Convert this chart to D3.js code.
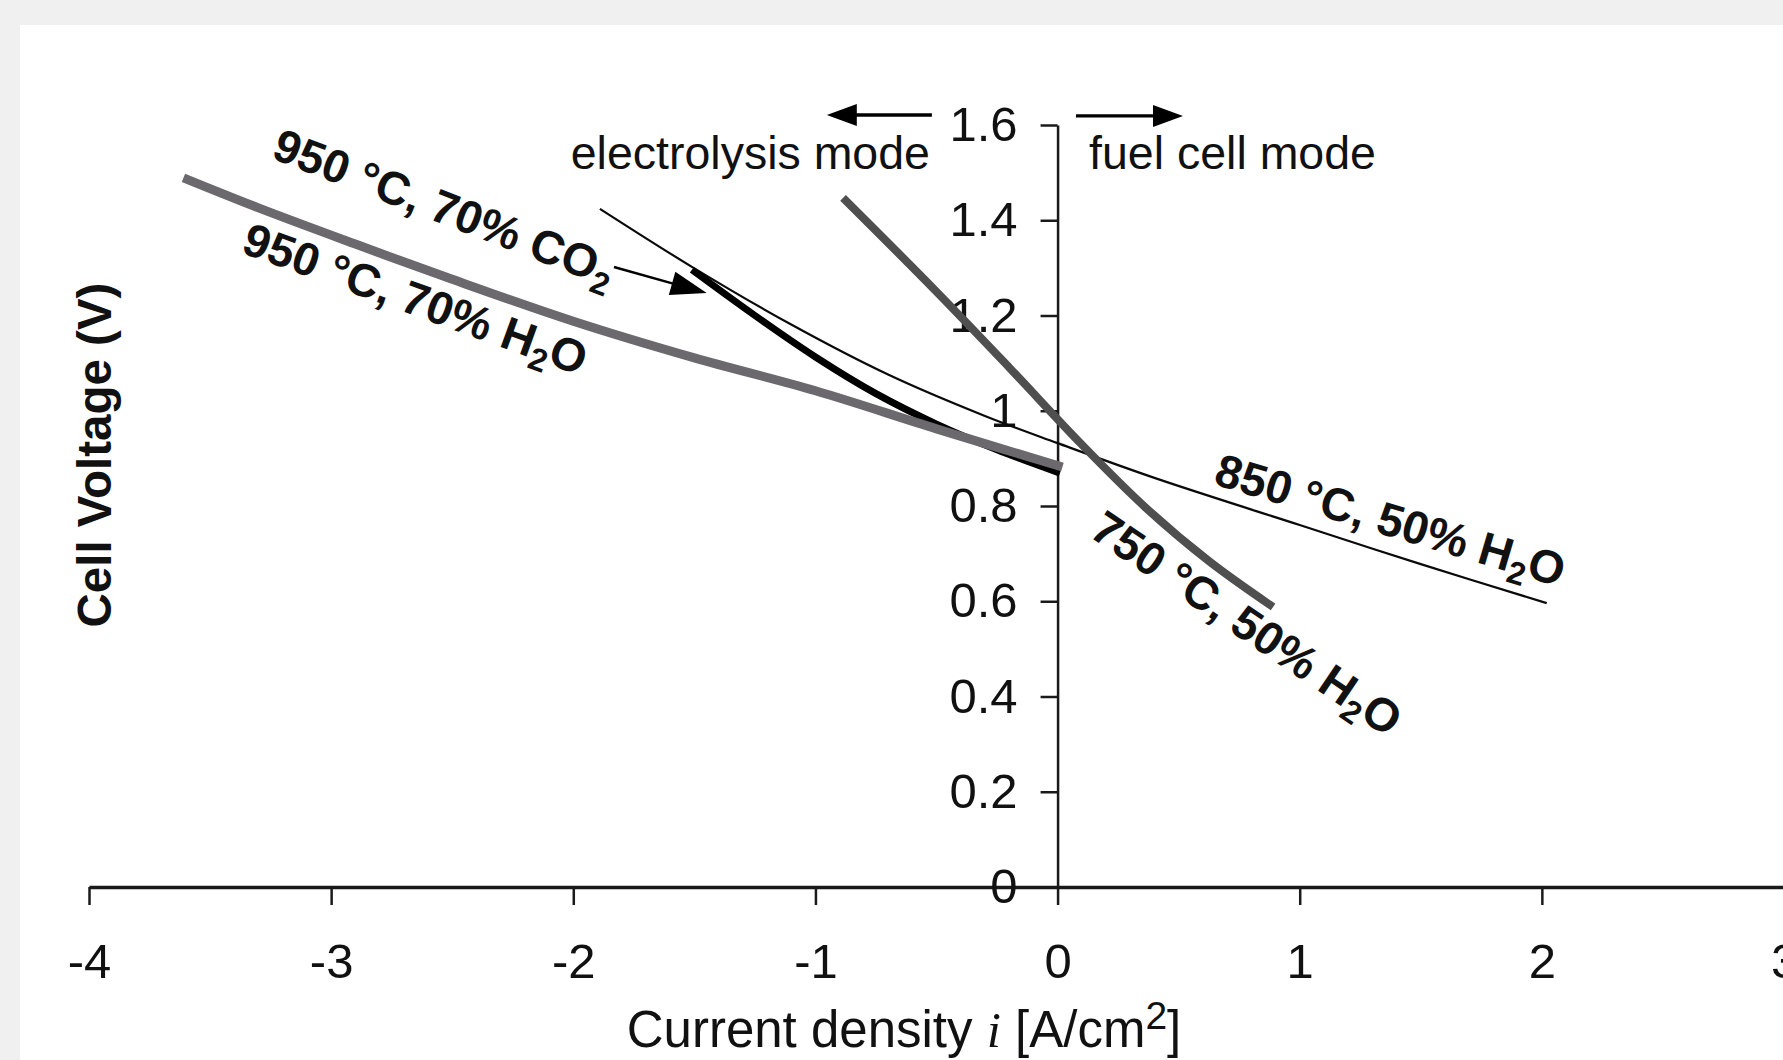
<!DOCTYPE html>
<html>
<head>
<meta charset="utf-8">
<script src="https://cdn.jsdelivr.net/npm/d3@7"></script>
<style>
  html, body { margin: 0; padding: 0; background: #eff0ef; }
  svg { display: block; }
  text { font-family: "Liberation Sans", Arial, Helvetica, sans-serif; fill: #111; }
</style>
</head>
<body>
<svg id="chart" width="1783" height="1060"></svg>
<script>
// ---------- data ----------
const xTickValues = [-4, -3, -2, -1, 0, 1, 2, 3];
const xTickLabels = ["-4", "-3", "-2", "-1", "0", "1", "2", "3"];
const yTickValues = [0, 0.2, 0.4, 0.6, 0.8, 1.0, 1.2, 1.4, 1.6];
const yTickLabels = ["0", "0.2", "0.4", "0.6", "0.8", "1", "1.2", "1.4", "1.6"];

// 950 °C, 70% H2O (thick light gray)
const h2o950_i = [-3.61, -3.30, -2.90, -2.50, -2.00, -1.50, -1.00, -0.50, 0.02];
const h2o950_v = [1.489, 1.426, 1.350, 1.276, 1.188, 1.111, 1.042, 0.962, 0.882];

// 950 °C, 70% CO2 (thick black)
const co2950_i = [-1.51, -1.25, -1.00, -0.75, -0.50, -0.25, 0.01];
const co2950_v = [1.296, 1.200, 1.113, 1.036, 0.972, 0.918, 0.869];

// 850 °C, 50% H2O (thin black)
const h2o850_i = [-1.89, -1.50, -1.10, -0.70, -0.30, 0.00, 0.40, 1.00, 1.50, 2.02];
const h2o850_v = [1.424, 1.299, 1.181, 1.076, 0.989, 0.932, 0.859, 0.760, 0.678, 0.596];

// 750 °C, 50% H2O (thick dark gray)
const h2o750_i = [-0.886, -0.50, -0.20, 0.10, 0.363, 0.626, 0.89];
const h2o750_v = [1.447, 1.250, 1.091, 0.929, 0.797, 0.684, 0.588];

// curve labels: text parts (main, subscript, rest), anchor point (data units), rotation
const labelTexts  = [["950 °C, 70% CO", "2", ""], ["950 °C, 70% H", "2", "O"], ["850 °C, 50% H", "2", "O"], ["750 °C, 50% H", "2", "O"]];
const labelI      = [-3.253, -3.377, 0.639, 0.125];
const labelV      = [1.531, 1.333, 0.846, 0.738];
const labelAngles = [21, 20, 16.5, 34];

// ---------- layout ----------
const svg = d3.select("#chart");
const W = 1783, H = 1060;
svg.append("rect").attr("x", 0).attr("y", 0).attr("width", W).attr("height", H).attr("fill", "#eff0ef");
svg.append("rect").attr("x", 20).attr("y", 25).attr("width", W - 20).attr("height", H - 25).attr("fill", "#ffffff");

const x = d3.scaleLinear().domain([-4, 3]).range([89, 1784]);
const y = d3.scaleLinear().domain([0, 1.6]).range([887, 125]);

// x axis
const xAxis = svg.append("g").attr("transform", `translate(0,${y(0)})`)
  .call(d3.axisBottom(x).tickValues(xTickValues).tickFormat((d, k) => xTickLabels[k]).tickSize(18).tickSizeOuter(0));
xAxis.select(".domain").attr("stroke", "#1a1a1a").attr("stroke-width", 3.5);
xAxis.selectAll(".tick line").attr("stroke", "#1a1a1a").attr("stroke-width", 2.5);
xAxis.selectAll(".tick text").attr("y", 91).attr("dy", null)
  .style("font-size", "49px").style("font-family", "'Liberation Sans', Arial, sans-serif").attr("fill", "#111");

// y axis
const yAxis = svg.append("g").attr("transform", `translate(${x(0)},0)`)
  .call(d3.axisLeft(y).tickValues(yTickValues).tickFormat((d, k) => yTickLabels[k]).tickSize(17).tickPadding(23).tickSizeOuter(0));
yAxis.select(".domain").attr("stroke", "#1a1a1a").attr("stroke-width", 2.5);
yAxis.selectAll(".tick line").attr("stroke", "#1a1a1a").attr("stroke-width", 2.5);
yAxis.selectAll(".tick text")
  .style("font-size", "49px").style("font-family", "'Liberation Sans', Arial, sans-serif").attr("fill", "#111");

// axis titles
const xt = svg.append("text").attr("x", 904).attr("y", 1047).attr("text-anchor", "middle").style("font-size", "51px");
xt.append("tspan").text("Current density ");
xt.append("tspan").style("font-family", "'Liberation Serif', 'Times New Roman', serif").style("font-style", "italic").text("i");
xt.append("tspan").text(" [A/cm");
xt.append("tspan").attr("dy", -18).style("font-size", "39px").text("2");
xt.append("tspan").attr("dy", 18).text("]");

svg.append("text").attr("transform", "translate(111,455) rotate(-90)").attr("text-anchor", "middle")
  .style("font-size", "47.5px").style("font-weight", "bold").text("Cell Voltage (V)");

// ---------- curves ----------
const line = d3.line().x(d => x(d[0])).y(d => y(d[1])).curve(d3.curveCatmullRom.alpha(0.5));
const zip = (a, b) => a.map((v, k) => [v, b[k]]);
const series = [
  { pts: zip(h2o850_i, h2o850_v), color: "#0a0a0a", width: 2.2 },
  { pts: zip(co2950_i, co2950_v), color: "#000000", width: 7 },
  { pts: zip(h2o950_i, h2o950_v), color: "#6b696d", width: 9 },
  { pts: zip(h2o750_i, h2o750_v), color: "#4f4f4f", width: 8 }
];
svg.append("g").selectAll("path").data(series).join("path")
  .attr("d", d => line(d.pts)).attr("fill", "none")
  .attr("stroke", d => d.color).attr("stroke-width", d => d.width)
  .attr("stroke-linecap", "butt").attr("stroke-linejoin", "round");

// ---------- curve labels ----------
labelTexts.forEach((parts, k) => {
  const t = svg.append("text")
    .attr("transform", `translate(${x(labelI[k])},${y(labelV[k])}) rotate(${labelAngles[k]})`)
    .style("font-size", "46.5px").style("font-weight", "bold");
  t.append("tspan").text(parts[0]);
  t.append("tspan").attr("dy", 10).style("font-size", "32px").text(parts[1]);
  if (parts[2]) t.append("tspan").attr("dy", -10).text(parts[2]);
});

// ---------- arrows ----------
function arrow(i1, v1, i2, v2, headLen, headHalf, sw) {
  const x1 = x(i1), y1 = y(v1), x2 = x(i2), y2 = y(v2);
  const dx = x2 - x1, dy = y2 - y1, L = Math.hypot(dx, dy);
  const ux = dx / L, uy = dy / L, px = -uy, py = ux;
  const bx = x2 - ux * headLen, by = y2 - uy * headLen;
  svg.append("line").attr("x1", x1).attr("y1", y1).attr("x2", bx + ux * 2).attr("y2", by + uy * 2)
    .attr("stroke", "#000").attr("stroke-width", sw);
  svg.append("path")
    .attr("d", `M${x2},${y2}L${bx + px * headHalf},${by + py * headHalf}L${bx - px * headHalf},${by - py * headHalf}Z`)
    .attr("fill", "#000");
}
// CO2 pointer
arrow(-1.832, 1.302, -1.449, 1.247, 36, 12, 2.5);
// mode arrows
arrow(-0.519, 1.621, -0.953, 1.621, 30, 11, 3.3);
arrow(0.076, 1.619, 0.518, 1.619, 30, 11, 3.3);

// mode texts
svg.append("text").attr("x", x(-0.527)).attr("y", y(1.508)).attr("text-anchor", "end")
  .style("font-size", "46.5px").text("electrolysis mode");
svg.append("text").attr("x", x(0.130)).attr("y", y(1.508)).attr("text-anchor", "start")
  .style("font-size", "46.5px").text("fuel cell mode");
</script>
</body>
</html>
